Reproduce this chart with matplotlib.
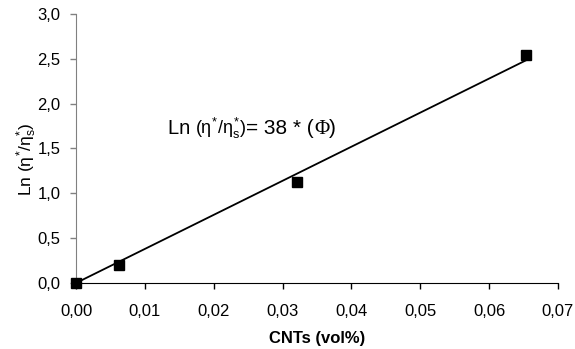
import matplotlib
matplotlib.use("Agg")
import matplotlib.pyplot as plt
from matplotlib import transforms
import numpy as np

# dados
cnt_vol = [0.0, 0.0063, 0.0321, 0.0653]
ln_visc = [0.0, 0.20, 1.13, 2.54]
inclinacao = 38
x_fit = [0.0, 0.0653]

x_ticks = [0.00, 0.01, 0.02, 0.03, 0.04, 0.05, 0.06, 0.07]
y_ticks = [0.0, 0.5, 1.0, 1.5, 2.0, 2.5, 3.0]

plt.rcParams["font.family"] = ["Liberation Sans", "DejaVu Sans"]
plt.rcParams["mathtext.fontset"] = "custom"
plt.rcParams["mathtext.rm"] = "Liberation Sans"
plt.rcParams["mathtext.it"] = "Liberation Sans"

fig = plt.figure(figsize=(5.75, 3.49), dpi=100)
ax = fig.add_axes([0.1322, 0.1891, 0.8382, 0.7708])

xf = np.array(x_fit)
ax.plot(xf, inclinacao * xf, color="black", lw=1.3, zorder=2)
ax.plot(cnt_vol, ln_visc, ls="none", marker="s", ms=6.5, color="black",
        clip_on=False, zorder=3)

ax.set_xlim(0, 0.07)
ax.set_ylim(0, 3.0)
ax.set_xticks(x_ticks)
ax.set_yticks(y_ticks)
ax.set_xticklabels([f"{v:.2f}".replace(".", ",") for v in x_ticks])
ax.set_yticklabels([f"{v:.1f}".replace(".", ",") for v in y_ticks])
ax.tick_params(axis="both", labelsize=12, length=4, width=1, direction="out")
ax.tick_params(axis="x", pad=11)
ax.tick_params(axis="y", pad=7, color="#808080")

for s in ["top", "right"]:
    ax.spines[s].set_visible(False)
ax.spines["left"].set_color("#808080")
ax.spines["bottom"].set_color("black")

ax.set_xlabel("CNTs (vol%)", fontsize=12, fontweight="bold")
ax.xaxis.set_label_coords(0.5, -0.18)
ax.set_ylabel(r"Ln ($\eta^{*}/\eta_{s}^{*}$)", fontsize=12.5)
ax.yaxis.set_label_coords(-0.076, 0.461)

# equação montada em pedaços (tamanhos diferentes), lado a lado
pedacos = [
    ("Ln ", 14.5, None),
    (r"($\eta^{*}/\eta_{s}^{*}$)", 13, None),
    ("= 38 * (", 15, None),
    ("\u03a6", 15, "Liberation Serif"),
    (")", 15, None),
]
x0, y0 = 0.0133, 1.66
dx = 0.0
fig.canvas.draw()
for txt, tam, fam in pedacos:
    tr = transforms.offset_copy(ax.transData, fig=fig, x=dx, y=0, units="dots")
    kw = {"family": fam} if fam else {}
    t = ax.text(x0, y0, txt, fontsize=tam, va="baseline", transform=tr, **kw)
    fig.canvas.draw()
    dx += t.get_window_extent().width

fig.savefig("out.png", dpi=100)
